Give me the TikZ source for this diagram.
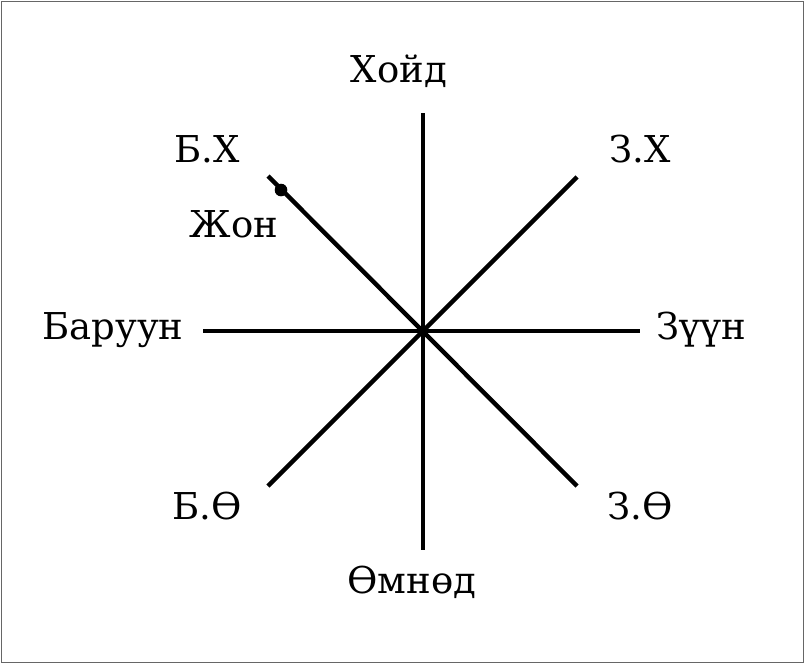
\documentclass[tikz,border=0pt]{standalone}
\usepackage{fontspec}
\setmainfont{DejaVu Serif}
\begin{document}
\begin{tikzpicture}[x=1pt,y=-1pt,
  ray/.style={line width=4.4pt},
  lbl/.style={font=\fontsize{37}{42}\selectfont, inner sep=0pt, anchor=base}]
\useasboundingbox (0,0) rectangle (805,664);
\draw[gray!80!black, line width=1pt] (1,1) rectangle (803,662);
\coordinate (c) at (423,331);
\coordinate (n) at (423,113);
\coordinate (s) at (423,550);
\coordinate (w) at (203,331);
\coordinate (e) at (640,331);
\coordinate (nw) at (268,176);
\coordinate (se) at (577,486);
\coordinate (ne) at (577,177);
\coordinate (sw) at (268,486);
\coordinate (pin) at (281,190);
\draw[ray] (n) -- (s);
\draw[ray] (w) -- (e);
\draw[ray] (nw) -- (se);
\draw[ray] (ne) -- (sw);
\fill (pin) circle (6.3pt);
\node[lbl] (tN) at (399,82) {Хойд};
\node[lbl] (tS) at (412,593) {Өмнөд};
\node[lbl] (tW) at (113,339) {Баруун};
\node[lbl] (tE) at (701,339) {Зүүн};
\node[lbl] (tNW) at (207,162) {Б.Х};
\node[lbl] (tNE) at (640,162) {З.Х};
\node[lbl] (tSW) at (207,519) {Б.Ө};
\node[lbl] (tSE) at (640,519) {З.Ө};
\node[lbl] (tJ) at (234,237) {Жон};
\end{tikzpicture}
\end{document}
